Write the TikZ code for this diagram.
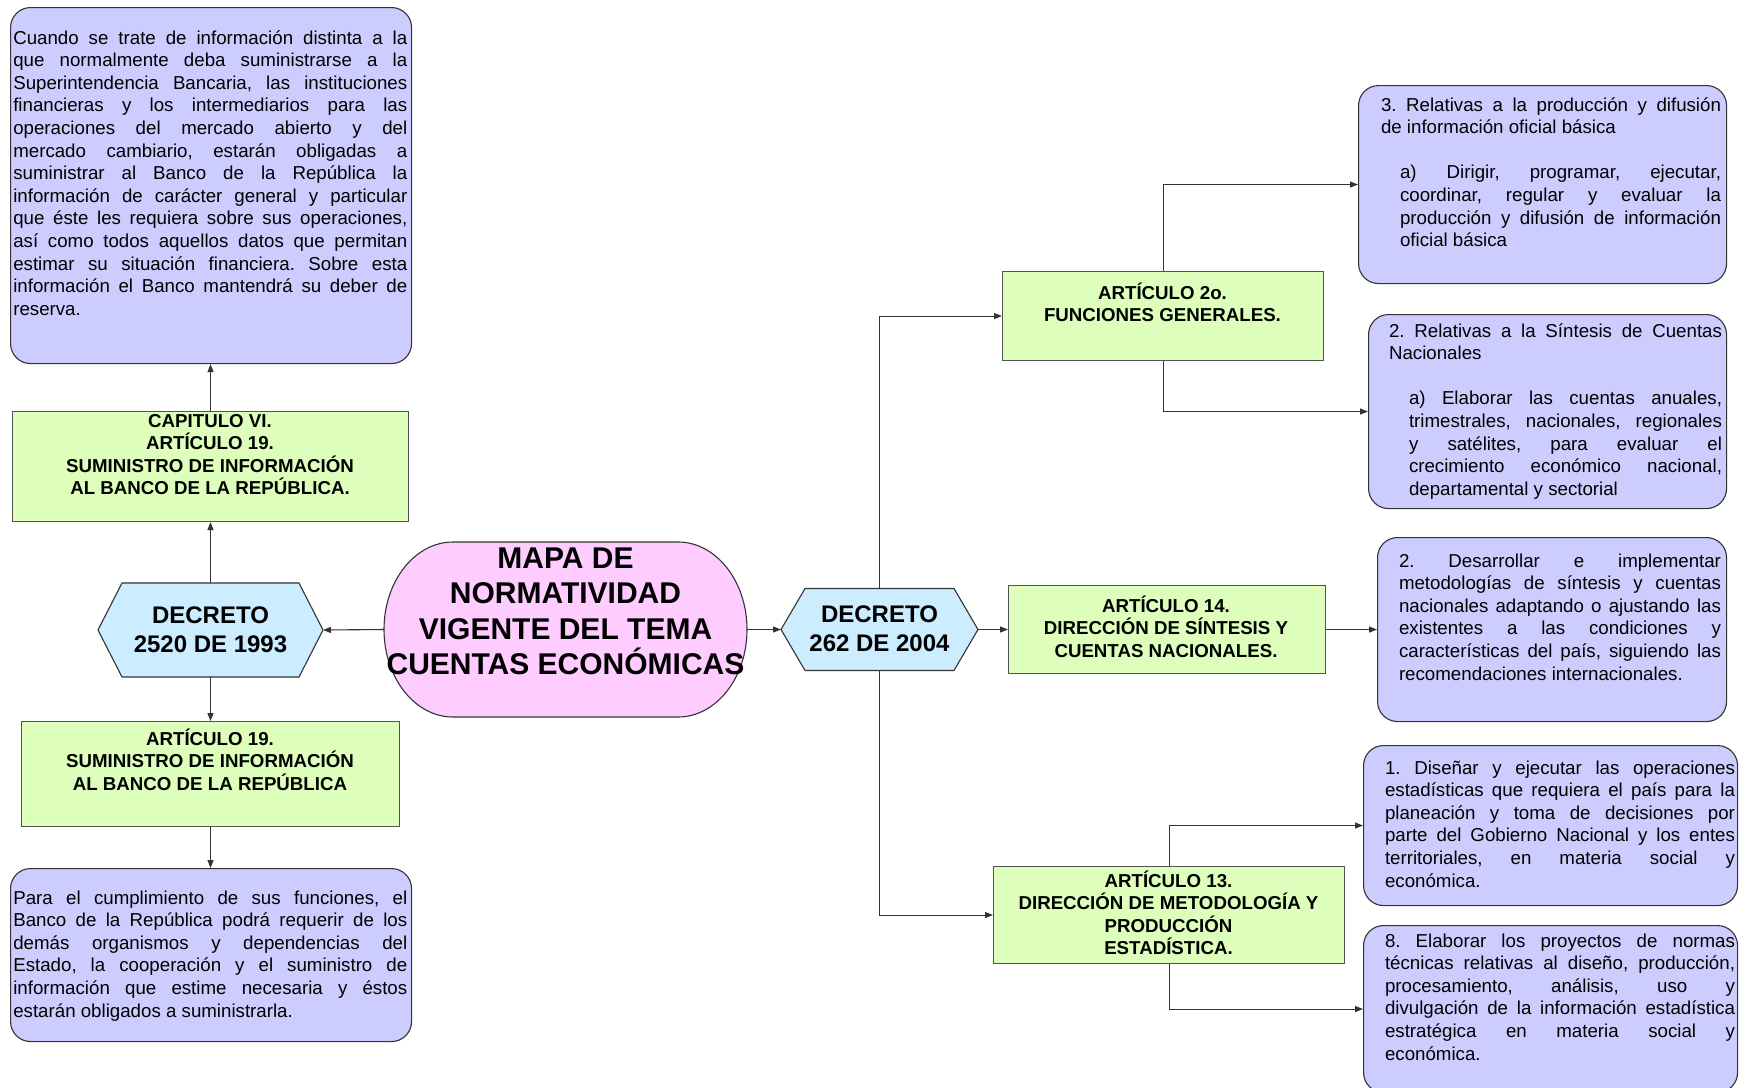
\documentclass[tikz,border=0pt]{standalone}
\usepackage{fontspec}
\setmainfont{Liberation Sans}
\usetikzlibrary{arrows.meta,calc}
\definecolor{boxpurple}{HTML}{CCCCFF}
\definecolor{boxgreen}{HTML}{DDFFBB}
\definecolor{hexblue}{HTML}{CCECFF}
\definecolor{ellpink}{HTML}{FFCCFF}
\definecolor{edgecol}{HTML}{333333}
\frenchspacing
\newcommand\bodytxt[2]{\parbox[t]{#1pt}{\frenchspacing\fontsize{18.7}{22.6}\selectfont\tolerance=10000\hyphenpenalty=10000 #2}}
\newcommand\headtxt[2]{\parbox[t]{#1pt}{\centering\fontsize{18.7}{22.6}\selectfont\bfseries #2}}
\tikzset{
  purplebox/.style={draw=edgecol, line width=1.1pt, fill=boxpurple, rounded corners=20pt, inner sep=0pt, anchor=north west},
  greenbox/.style={draw=edgecol!85, line width=1.1pt, fill=boxgreen, inner sep=0pt, anchor=north west},
  frame/.style={inner sep=0pt, outer sep=0pt, draw=none},
  txt/.style={inner sep=0pt, outer sep=0pt},
  arr/.style={draw=edgecol, line width=1.1pt, -{Triangle[length=8pt,width=6pt]}},
  hexshape/.style={draw=edgecol, line width=1.1pt, fill=hexblue},
  ellshape/.style={draw=edgecol, line width=1.1pt, fill=ellpink},
}
\begin{document}
\begin{tikzpicture}[x=1pt,y=-1pt]
\fill[white] (0,0) rectangle (1748,1087);
\useasboundingbox (0,0) rectangle (1748,1087);

% boxes
\node[purplebox, minimum width=401, minimum height=356] (tl) at (10,7) {};
\node[greenbox, minimum width=396, minimum height=110] (cap) at (12,411) {};
\node[greenbox, minimum width=378, minimum height=105] (art19) at (21,721) {};
\node[purplebox, minimum width=401, minimum height=173] (bl) at (10,868) {};
\node[greenbox, minimum width=321, minimum height=89] (art2) at (1002,271) {};
\node[greenbox, minimum width=317, minimum height=88] (art14) at (1008,585) {};
\node[greenbox, minimum width=351, minimum height=97] (art13) at (993,866) {};
\node[purplebox, minimum width=368, minimum height=198] (b3) at (1358,85) {};
\node[purplebox, minimum width=358, minimum height=194] (b2r) at (1368,314) {};
\node[purplebox, minimum width=349, minimum height=184] (b2d) at (1377,537) {};
\node[purplebox, minimum width=374, minimum height=160] (b1) at (1363,745) {};
\node[purplebox, minimum width=374, minimum height=167] (b8) at (1363,925) {};

% hexagons and central shape
\node[frame, minimum width=225, minimum height=94] (h1) at (210.5,630) {};
\draw[hexshape] (h1.west) -- ([xshift=24pt]h1.north west) -- ([xshift=-24pt]h1.north east) -- (h1.east) -- ([xshift=-24pt]h1.south east) -- ([xshift=24pt]h1.south west) -- cycle;
\node[frame, minimum width=197, minimum height=82] (h2) at (879.5,629.5) {};
\draw[hexshape] (h2.west) -- ([xshift=24pt]h2.north west) -- ([xshift=-24pt]h2.north east) -- (h2.east) -- ([xshift=-24pt]h2.south east) -- ([xshift=24pt]h2.south west) -- cycle;
\node[frame, minimum width=363, minimum height=175] (ell) at (565.5,629.5) {};
\draw[ellshape] ([xshift=69pt]ell.north west) -- ([xshift=-69pt]ell.north east) arc[start angle=90, end angle=-90, x radius=69pt, y radius=87.5pt] -- ([xshift=69pt]ell.south west) arc[start angle=270, end angle=90, x radius=69pt, y radius=87.5pt] -- cycle;

% connectors
\draw[arr] (ell.west) -- (h1.east);
\draw[arr] (ell.east) -- (h2.west);
\draw[arr] (h1.north) -- (h1.north |- cap.south);
\draw[arr] (cap.north) -- (cap.north |- tl.south);
\draw[arr] (h1.south) -- (h1.south |- art19.north);
\draw[arr] (art19.south) -- (art19.south |- bl.north);
\draw[arr] (h2.north) |- (art2.west);
\draw[arr] (h2.south) |- (art13.west);
\draw[arr] (h2.east) -- (h2.east -| art14.west);
\draw[arr] (art2.north) |- (b3.west);
\draw[arr] (art2.south) |- (b2r.west);
\draw[arr] (art14.east) -- (art14.east -| b2d.west);
\draw[arr] (art13.north) |- (b1.west);
\draw[arr] (art13.south) |- (b8.west);

% texts
\node[txt, anchor=base west] (ttl) at (13.3,44) {\bodytxt{394}{Cuando se trate de información distinta a la\linebreak que normalmente deba suministrarse a la\linebreak Superintendencia Bancaria, las instituciones\linebreak financieras y los intermediarios para las\linebreak operaciones del mercado abierto y del\linebreak mercado cambiario, estarán obligadas a\linebreak suministrar al Banco de la República la\linebreak información de carácter general y particular\linebreak que éste les requiera sobre sus operaciones,\linebreak así como todos aquellos datos que permitan\linebreak estimar su situación financiera. Sobre esta\linebreak información el Banco mantendrá su deber de\linebreak reserva.}};
\node[txt, anchor=base west] (tbl) at (13.3,904) {\bodytxt{394}{Para el cumplimiento de sus funciones, el\linebreak Banco de la República podrá requerir de los\linebreak demás organismos y dependencias del\linebreak Estado, la cooperación y el suministro de\linebreak información que estime necesaria y éstos\linebreak estarán obligados a suministrarla.}};
\node[txt, anchor=base west] (tb3) at (1381,111) {\bodytxt{340}{3. Relativas a la producción y difusión\linebreak de información oficial básica\par\mbox{}\par\leftskip=19pt a) Dirigir, programar, ejecutar,\linebreak coordinar, regular y evaluar la\linebreak producción y difusión de información\linebreak oficial básica\par}};
\node[txt, anchor=base west] (tb2r) at (1389,337) {\bodytxt{333}{2. Relativas a la Síntesis de Cuentas\linebreak Nacionales\par\mbox{}\par\leftskip=20pt a) Elaborar las cuentas anuales,\linebreak trimestrales, nacionales, regionales\linebreak y satélites, para evaluar el\linebreak crecimiento económico nacional,\linebreak departamental y sectorial\par}};
\node[txt, anchor=base west] (tb2d) at (1399,567) {\bodytxt{322}{2. Desarrollar e implementar\linebreak metodologías de síntesis y cuentas\linebreak nacionales adaptando o ajustando las\linebreak existentes a las condiciones y\linebreak características del país, siguiendo las\linebreak recomendaciones internacionales.}};
\node[txt, anchor=base west] (tb1) at (1385,774) {\bodytxt{350}{1. Diseñar y ejecutar las operaciones\linebreak estadísticas que requiera el país para la\linebreak planeación y toma de decisiones por\linebreak parte del Gobierno Nacional y los entes\linebreak territoriales, en materia social y\linebreak económica.}};
\node[txt, anchor=base west] (tb8) at (1385,947) {\bodytxt{350}{8. Elaborar los proyectos de normas\linebreak técnicas relativas al diseño, producción,\linebreak procesamiento, análisis, uso y\linebreak divulgación de la información estadística\linebreak estratégica en materia social y\linebreak económica.}};

\node[txt, anchor=base] (tcap) at (210,427) {\headtxt{390}{CAPITULO VI.\\ARTÍCULO 19.\\SUMINISTRO DE INFORMACIÓN\\AL BANCO DE LA REPÚBLICA.}};
\node[txt, anchor=base] (tart19) at (210,745) {\headtxt{372}{ARTÍCULO 19.\\SUMINISTRO DE INFORMACIÓN\\AL BANCO DE LA REPÚBLICA}};
\node[txt, anchor=base] (tart2) at (1162.5,299) {\headtxt{315}{ARTÍCULO 2o.\\FUNCIONES GENERALES.}};
\node[txt, anchor=base] (tart14) at (1166,612) {\headtxt{311}{ARTÍCULO 14.\\DIRECCIÓN DE SÍNTESIS Y\\CUENTAS NACIONALES.}};
\node[txt, anchor=base] (tart13) at (1168.5,887) {\headtxt{345}{ARTÍCULO 13.\\DIRECCIÓN DE METODOLOGÍA Y\\PRODUCCIÓN\\ESTADÍSTICA.}};

\node[txt, anchor=base] (th1) at (210.5,623) {\parbox[t]{220pt}{\centering\fontsize{24}{29}\selectfont\bfseries DECRETO\\2520 DE 1993}};
\node[txt, anchor=base] (th2) at (879.5,622) {\parbox[t]{190pt}{\centering\fontsize{24}{29}\selectfont\bfseries DECRETO\\262 DE 2004}};
\node[txt, anchor=base] (tell) at (565.5,568) {\parbox[t]{370pt}{\centering\fontsize{30}{35.6}\selectfont\bfseries MAPA DE\\NORMATIVIDAD\\VIGENTE DEL TEMA\\CUENTAS ECONÓMICAS}};
\end{tikzpicture}
\end{document}
